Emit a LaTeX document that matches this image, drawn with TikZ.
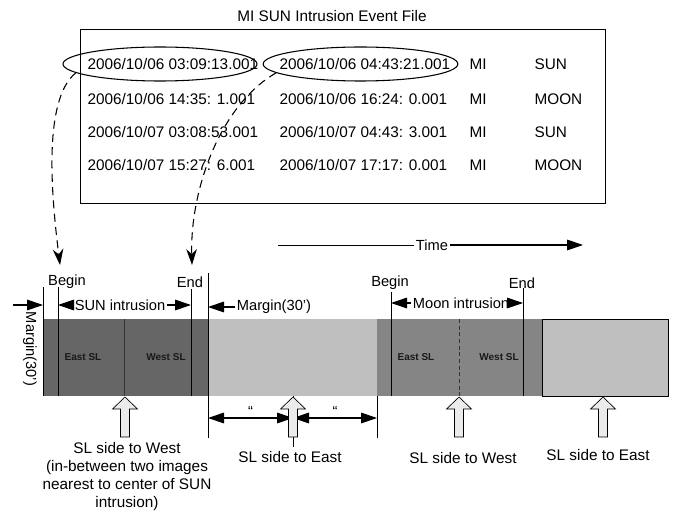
\documentclass[tikz,border=0pt]{standalone}
\usepackage{fontspec}
\setmainfont{Liberation Sans}
\usetikzlibrary{shapes, arrows.meta, positioning, calc}

\tikzset{
  txt/.style={font=\fontsize{11.5}{13.5}\selectfont, inner sep=1pt},
  lbl/.style={font=\fontsize{11}{13}\selectfont, inner sep=1pt},
  bartxt/.style={font=\fontsize{7.5}{9}\selectfont\bfseries, text=black!90},
  guide/.style={line width=0.6pt},
  span/.style={line width=0.8pt, -{Triangle[length=12pt,width=8pt]}},
  spanboth/.style={line width=0.8pt, {Triangle[length=12pt,width=8pt]}-{Triangle[length=12pt,width=8pt]}},
  link/.style={line width=0.8pt, dash pattern=on 6pt off 4pt, -{Stealth[length=12pt,width=8pt]}},
  hollowup/.pic={
    \draw[line width=0.5pt, fill=black!8] (-4.5,0) -- (-4.5,-28) -- (-12.5,-28) -- (0,-40)
      -- (12.5,-28) -- (4.5,-28) -- (4.5,0) -- cycle;
  }
}

\begin{document}
\begin{tikzpicture}[x=0.75pt, y=-0.75pt]
\useasboundingbox (0,0) rectangle (673,513);

% Event file
\node[txt] (title) at (332,16) {MI SUN Intrusion Event File};
\node[draw, line width=0.8pt, anchor=north west, minimum width=393.75pt, minimum height=130.5pt] (evfile) at (80,29) {};

\foreach \y/\a/\b/\c [count=\i] in {64/{2006/10/06 03:09:13.001}/{2006/10/06 04:43:21.001}/SUN,
                                    99/{2006/10/06 14:35: 1.001}/{2006/10/06 16:24: 0.001}/MOON,
                                    132/{2006/10/07 03:08:53.001}/{2006/10/07 04:43: 3.001}/SUN,
                                    165/{2006/10/07 15:27: 6.001}/{2006/10/07 17:17: 0.001}/MOON} {
   \node[txt, anchor=west] (t\i) at (86,\y) {\a};
   \node[txt, anchor=west] (u\i) at (278,\y) {\b};
   \node[txt, anchor=west] (v\i) at (468,\y) {MI};
   \node[txt, anchor=west] (w\i) at (533,\y) {\c};
}

\node[draw, ellipse, line width=0.8pt, minimum width=145.5pt, minimum height=25.5pt] (sel1) at (160,64) {};
\node[draw, ellipse, line width=0.8pt, minimum width=146pt, minimum height=25.5pt] (sel2) at (360.5,64) {};

% Time axis
\coordinate (tstart) at (278,245);
\coordinate (tend) at (583,245);
\node[lbl] (timelbl) at (432,245) {Time};
\draw[line width=0.7pt] (tstart) -- (timelbl);
\draw[span] (timelbl) -- (tend);

% Time line bar
\fill[black!60] (43,319) rectangle (208,396);
\fill[black!25] (208,319) rectangle (377,396);
\fill[black!48] (377,319) rectangle (542,396);
\filldraw[fill=black!25, draw=black, line width=0.5pt] (542,319) rectangle (668,396);

\foreach \n/\x/\ya/\yb in {m0/43/287/396, sb/58/287/396, se/191/289/396, m1/208/273/438,
                           m2/377/396/438, mb/391/292/396, me/523/288/396, mid/293/396/447} {
   \coordinate (\n-top) at (\x,\ya);
   \coordinate (\n-bot) at (\x,\yb);
   \draw[guide] (\n-top) -- (\n-bot);
}
\draw[guide, black!80] (124,319) -- (124,396);
\draw[guide, black!80, densely dashed] (459,319) -- (459,396);

% Sun intrusion
\node[lbl] (sunbegin) at (67,282) {Begin};
\node[lbl] (sunend) at (190,282) {End};
\node[lbl, fill=white] (sunint) at (120,305) {SUN intrusion};
\draw[span] (sunint) -- (sunint -| sb-top);
\draw[span] (sunint) -- (sunint -| se-top);

\coordinate (mleft) at (13,305);
\draw[span] (mleft) -- (mleft -| m0-top);
\node[lbl, rotate=-90] (marg0) at (30,349) {Margin(30')};

\node[lbl] (marg1) at (274,307) {Margin(30')};
\draw[span] (marg1) -- (marg1 -| m1-top);

% Moon intrusion
\node[lbl] (moonbegin) at (390,283) {Begin};
\node[lbl] (moonend) at (522,283) {End};
\node[lbl, fill=white] (moonint) at (461,303) {Moon intrusion};
\draw[span] (moonint) -- (moonint -| mb-top);
\draw[span] (moonint) -- (moonint -| me-top);

% Images inside the bar
\node[bartxt] (seast) at (83,357) {East SL};
\node[bartxt] (swest) at (166,357) {West SL};
\node[bartxt] (meast) at (416,357) {East SL};
\node[bartxt] (mwest) at (499,357) {West SL};

% Half margins
\coordinate (d1) at (208,418);
\coordinate (d2) at (293,418);
\coordinate (d3) at (377,418);
\draw[spanboth] (d1) -- (d2) node[midway, above=0pt, lbl] (ditto1) {``};
\draw[spanboth] (d2) -- (d3) node[midway, above=0pt, lbl] (ditto2) {``};

% SL side arrows
\foreach \x in {125, 293, 459, 603} {
   \pic at (\x,437) {hollowup};
}

\node[txt, align=center, anchor=north] (sidew1) at (127,441) {SL side to West\\(in-between two images\\nearest to center of SUN\\intrusion)};
\node[txt] (sidee1) at (290,457) {SL side to East};
\node[txt] (sidew2) at (463,458) {SL side to West};
\node[txt] (sidee2) at (598,455) {SL side to East};

% Links from the file to the time line
\coordinate (sbtip) at (60,265);
\coordinate (setip) at (192,265);
\draw[link] (sel1.186) .. controls (42,100) and (52,200) .. (sbtip);
\draw[link] (sel2.186) .. controls (220,105) and (190,190) .. (setip);
\end{tikzpicture}
\end{document}
